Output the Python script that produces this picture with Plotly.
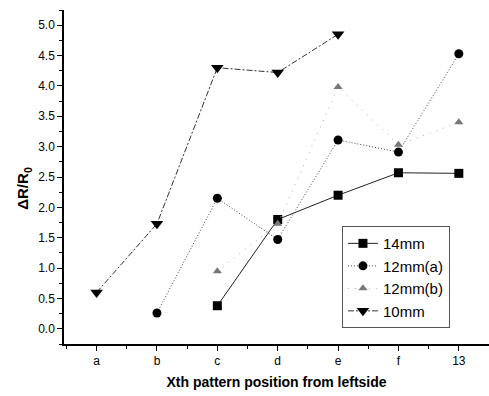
import plotly.graph_objects as go

categories = ["a", "b", "c", "d", "e", "f", "13"]

# series values (None = no point at that position)
mm14 = [None, None, 0.38, 1.80, 2.20, 2.57, 2.56]
mm12a = [None, 0.26, 2.15, 1.47, 3.11, 2.91, 4.53]
mm12b = [None, None, 0.95, 1.73, 3.98, 3.03, 3.40]
mm10 = [0.60, 1.73, 4.30, 4.22, 4.85, None, None]

y_ticks = [0.0, 0.5, 1.0, 1.5, 2.0, 2.5, 3.0, 3.5, 4.0, 4.5, 5.0]

xpos = list(range(len(categories)))

def pts(vals):
    xs, ys = [], []
    for x, v in zip(xpos, vals):
        if v is not None:
            xs.append(x)
            ys.append(v)
    return xs, ys

fig = go.Figure()

x, y = pts(mm14)
fig.add_trace(go.Scatter(x=x, y=y, name="14mm", mode="lines+markers",
                         line=dict(color="#222", width=1, dash="solid"),
                         marker=dict(symbol="square", size=9, color="#000")))
x, y = pts(mm12a)
fig.add_trace(go.Scatter(x=x, y=y, name="12mm(a)", mode="lines+markers",
                         line=dict(color="#444", width=1, dash="1px,2px"),
                         marker=dict(symbol="circle", size=9, color="#000")))
x, y = pts(mm12b)
fig.add_trace(go.Scatter(x=x, y=y, name="12mm(b)", mode="lines+markers",
                         line=dict(color="#aaa", width=1, dash="1px,6px"),
                         marker=dict(symbol="triangle-up", size=8, color="#777")))
x, y = pts(mm10)
fig.add_trace(go.Scatter(x=x, y=y, name="10mm", mode="lines+markers",
                         line=dict(color="#333", width=1, dash="6px,2px,2px,2px"),
                         marker=dict(symbol="triangle-down", size=11, color="#000")))

font_family = "Liberation Sans, Arial, sans-serif"

fig.update_layout(
    width=489, height=396,
    margin=dict(l=64, r=0, t=10, b=52),
    paper_bgcolor="white", plot_bgcolor="white",
    font=dict(family=font_family, color="#000", size=12),
    showlegend=True,
    legend=dict(x=0.654, y=0.353, xanchor="left", yanchor="top",
                bordercolor="#555", borderwidth=1, bgcolor="white",
                font=dict(size=15, family=font_family),
                tracegroupgap=0, itemwidth=30),
    xaxis=dict(range=[-0.54, 6.5], tickmode="array", tickvals=xpos,
               ticktext=categories, showgrid=False, zeroline=False,
               showline=True, linecolor="#000", linewidth=1.5,
               ticks="outside", ticklen=5, tickwidth=1, tickcolor="#000",
               minor=dict(dtick=0.5, tick0=0, ticks="outside", ticklen=3,
                          tickcolor="#000", showgrid=False),
               tickfont=dict(size=12),
               title=dict(text="<b>Xth pattern position from leftside</b>",
                          font=dict(size=14), standoff=10)),
    yaxis=dict(range=[-0.25, 5.25], tickmode="array", tickvals=y_ticks,
               ticktext=[f"{v:.1f}" for v in y_ticks],
               showgrid=False, zeroline=False,
               showline=True, linecolor="#000", linewidth=1.5,
               ticks="outside", ticklen=5, tickwidth=1, tickcolor="#000",
               minor=dict(dtick=0.25, tick0=0, ticks="outside", ticklen=3,
                          tickcolor="#000", showgrid=False),
               tickfont=dict(size=12)),
)

fig.add_annotation(text="<b>ΔR/R<sub>0</sub></b>", textangle=-90,
                   xref="paper", yref="paper", x=-0.094, y=0.465,
                   xanchor="center", yanchor="middle", showarrow=False,
                   font=dict(size=15, family=font_family))

fig.write_html("out.html", config={"displayModeBar": False},
               post_script="document.body.style.margin='0';")
